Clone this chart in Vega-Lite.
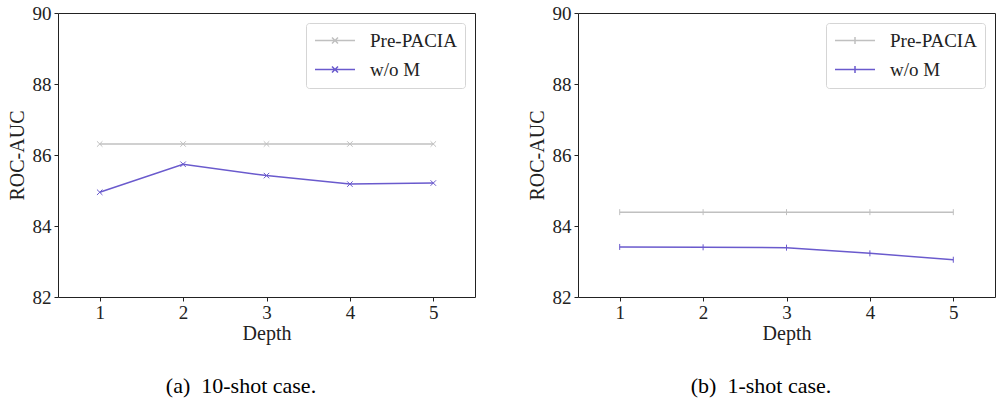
{
  "$schema": "https://vega.github.io/schema/vega-lite/v6.json",
  "padding": {"left": 6, "top": 3, "right": 2, "bottom": 0},
  "background": "white",
  "spacing": 50,
  "config": {
    "font": "'Liberation Serif', 'Times New Roman', serif",
    "view": {"stroke": "#222", "strokeWidth": 1},
    "axis": {
      "labelFont": "'Liberation Serif', 'Times New Roman', serif", "labelFontSize": 19, "labelColor": "#222",
      "titleFont": "'Liberation Serif', 'Times New Roman', serif", "titleFontSize": 20, "titleFontWeight": "normal", "titleColor": "#222",
      "tickColor": "#222", "domainColor": "#222", "grid": false, "tickSize": 4
    },
    "legend": {
      "labelFont": "'Liberation Serif', 'Times New Roman', serif", "labelFontSize": 19, "labelColor": "#222"
    }
  },
  "datasets": {
    "a": [
      {"depth": 1, "series": "Pre-PACIA", "auc": 86.31},
      {"depth": 2, "series": "Pre-PACIA", "auc": 86.31},
      {"depth": 3, "series": "Pre-PACIA", "auc": 86.31},
      {"depth": 4, "series": "Pre-PACIA", "auc": 86.31},
      {"depth": 5, "series": "Pre-PACIA", "auc": 86.31},
      {"depth": 1, "series": "w/o M", "auc": 84.95},
      {"depth": 2, "series": "w/o M", "auc": 85.74},
      {"depth": 3, "series": "w/o M", "auc": 85.42},
      {"depth": 4, "series": "w/o M", "auc": 85.18},
      {"depth": 5, "series": "w/o M", "auc": 85.21}
    ],
    "b": [
      {"depth": 1, "series": "Pre-PACIA", "auc": 84.39},
      {"depth": 2, "series": "Pre-PACIA", "auc": 84.39},
      {"depth": 3, "series": "Pre-PACIA", "auc": 84.39},
      {"depth": 4, "series": "Pre-PACIA", "auc": 84.39},
      {"depth": 5, "series": "Pre-PACIA", "auc": 84.39},
      {"depth": 1, "series": "w/o M", "auc": 83.41},
      {"depth": 2, "series": "w/o M", "auc": 83.40},
      {"depth": 3, "series": "w/o M", "auc": 83.39},
      {"depth": 4, "series": "w/o M", "auc": 83.23},
      {"depth": 5, "series": "w/o M", "auc": 83.05}
    ]
  },
  "hconcat": [
    {
      "width": 417, "height": 284,
      "data": {"name": "a"},
      "title": {"text": "(a)\u00a0 10-shot case.", "orient": "bottom", "frame": "bounds", "anchor": "middle", "font": "'Liberation Serif', 'Times New Roman', serif", "fontSize": 22, "fontWeight": "normal", "color": "black", "offset": 33},
      "encoding": {
        "x": {"field": "depth", "type": "quantitative", "scale": {"domain": [0.5, 5.5], "nice": false, "zero": false},
              "axis": {"values": [1, 2, 3, 4, 5], "title": "Depth", "labelPadding": 2, "titlePadding": 1, "domain": false}},
        "y": {"field": "auc", "type": "quantitative", "scale": {"domain": [82, 90], "nice": false, "zero": false},
              "axis": {"values": [82, 84, 86, 88, 90], "format": "d", "title": "ROC-AUC", "labelPadding": 3, "titlePadding": 5, "domain": false}},
        "color": {"field": "series", "type": "nominal",
                  "scale": {"domain": ["Pre-PACIA", "w/o M"], "range": ["#c0c0c0", "#6a5acd"]}}
      },
      "layer": [
        {
          "mark": {"type": "line", "strokeWidth": 1.5},
          "encoding": {
            "color": {"field": "series", "type": "nominal",
                      "scale": {"domain": ["Pre-PACIA", "w/o M"], "range": ["#c0c0c0", "#6a5acd"]},
                      "legend": {"orient": "top-right", "offset": 10, "title": null,
                                 "symbolType": "M-1,0L1,0M-0.15,-0.15L0.15,0.15M-0.15,0.15L0.15,-0.15",
                                 "symbolSize": 1600, "symbolStrokeWidth": 1.5, "symbolFillColor": "transparent",
                                 "clipHeight": 19,
                                 "labelOffset": 14, "fillColor": "white", "strokeColor": "#d5d5d5", "cornerRadius": 3,
                                 "padding": 8, "rowPadding": 9}}
          }
        },
        {
          "mark": {"type": "point", "shape": "M-1,-1L1,1M-1,1L1,-1", "filled": false, "size": 30, "strokeWidth": 1, "opacity": 1},
          "encoding": {"color": {"field": "series", "type": "nominal", "legend": null,
                                 "scale": {"domain": ["Pre-PACIA", "w/o M"], "range": ["#c0c0c0", "#6a5acd"]}}}
        }
      ]
    },
    {
      "width": 417, "height": 284,
      "data": {"name": "b"},
      "title": {"text": "(b)\u00a0 1-shot case.", "orient": "bottom", "frame": "bounds", "anchor": "middle", "font": "'Liberation Serif', 'Times New Roman', serif", "fontSize": 22, "fontWeight": "normal", "color": "black", "offset": 33},
      "encoding": {
        "x": {"field": "depth", "type": "quantitative", "scale": {"domain": [0.5, 5.5], "nice": false, "zero": false},
              "axis": {"values": [1, 2, 3, 4, 5], "title": "Depth", "labelPadding": 2, "titlePadding": 1, "domain": false}},
        "y": {"field": "auc", "type": "quantitative", "scale": {"domain": [82, 90], "nice": false, "zero": false},
              "axis": {"values": [82, 84, 86, 88, 90], "format": "d", "title": "ROC-AUC", "labelPadding": 3, "titlePadding": 5, "domain": false}},
        "color": {"field": "series", "type": "nominal",
                  "scale": {"domain": ["Pre-PACIA", "w/o M"], "range": ["#c0c0c0", "#6a5acd"]}}
      },
      "layer": [
        {
          "mark": {"type": "line", "strokeWidth": 1.5},
          "encoding": {
            "color": {"field": "series", "type": "nominal",
                      "scale": {"domain": ["Pre-PACIA", "w/o M"], "range": ["#c0c0c0", "#6a5acd"]},
                      "legend": {"orient": "top-right", "offset": 10, "title": null,
                                 "symbolType": "M-1,0L1,0M0,-0.17L0,0.17",
                                 "symbolSize": 1600, "symbolStrokeWidth": 1.5, "symbolFillColor": "transparent",
                                 "clipHeight": 19,
                                 "labelOffset": 14, "fillColor": "white", "strokeColor": "#d5d5d5", "cornerRadius": 3,
                                 "padding": 8, "rowPadding": 9}}
          }
        },
        {
          "mark": {"type": "point", "shape": "M0,-1L0,1", "filled": false, "size": 36, "strokeWidth": 1, "opacity": 1},
          "encoding": {"color": {"field": "series", "type": "nominal", "legend": null,
                                 "scale": {"domain": ["Pre-PACIA", "w/o M"], "range": ["#c0c0c0", "#6a5acd"]}}}
        }
      ]
    }
  ],
  "resolve": {"scale": {"color": "independent"}, "legend": {"color": "independent"}}
}
